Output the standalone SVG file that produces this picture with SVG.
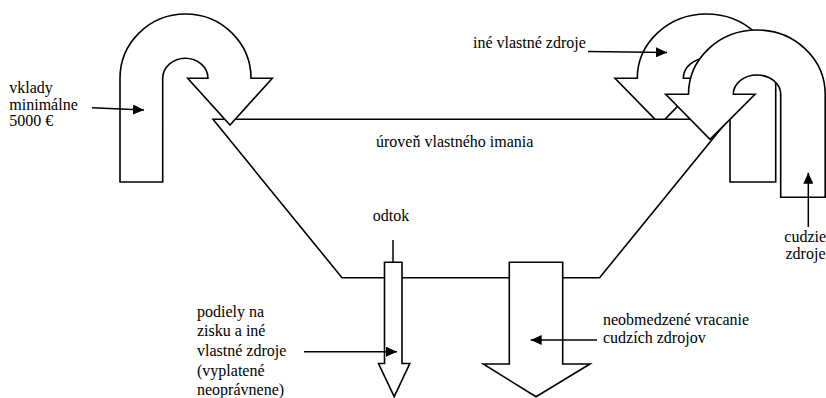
<svg xmlns="http://www.w3.org/2000/svg" width="826" height="398" viewBox="0 0 826 398">
<style>
.shape{fill:#fff;stroke:#000;stroke-width:1.6;stroke-linejoin:miter}
.conn{fill:none;stroke:#000;stroke-width:1.5}
text{font-family:"Liberation Serif","Times New Roman",serif;font-size:16px;fill:#000}
</style>
<defs>
<marker id="ah" markerUnits="userSpaceOnUse" markerWidth="12" markerHeight="10" refX="11" refY="5" orient="auto">
<path d="M0,0 L11,5 L0,10 Z" fill="#000"/>
</marker>
</defs>
<rect width="826" height="398" fill="#fff"/>
<g id="ine-vlastne-zdroje-arrow">
<path class="shape" d="M775.7,182 L775.7,78.3 A69.2,64.3 0 0 0 637.3,78.3 L615,78.3 L660,124.4 L705,78.3 L683.3,78.3 A23.35,20 0 0 1 730,78.3 L730,182 Z"/>
</g>
<g id="vlastne-imanie">
<path class="shape" d="M213,119.3 L728.6,119.3 L599.6,277.7 L342,277.7 Z"/>
<text x="376" y="146.7">úroveň vlastného imania</text>
</g>
<g id="vklady-arrow">
<path class="shape" d="M120,182 L120,78.3 A65.5,64.3 0 0 1 251,78.3 L272.3,78.3 L230,125 L187.7,78.3 L208,78.3 A22.65,20 0 0 0 162.7,78.3 L162.7,182 Z"/>
</g>
<g id="cudzie-zdroje-arrow">
<path class="shape" d="M825.2,197.3 L825.2,94.3 A68.35,64.3 0 0 0 688.5,94.3 L665.7,94.3 L710,139.3 L755,94.3 L733.3,94.3 A23.7,19.3 0 0 1 780.7,94.3 L780.7,197.3 Z"/>
</g>
<g id="odtok-arrow">
<path class="shape" d="M384.5,262.3 L402,262.3 L402,363.5 L409.8,363.5 L394.2,396.7 L378.5,363.5 L384.5,363.5 Z"/>
</g>
<g id="vracanie-arrow">
<path class="shape" d="M509.3,262.3 L562.7,262.3 L562.7,364 L590,364 L536,396.7 L483.3,364 L509.3,364 Z"/>
</g>
<g id="connectors">
<line class="conn" x1="92" y1="107.7" x2="144" y2="110" marker-end="url(#ah)"/>
<line class="conn" x1="588" y1="51.5" x2="667" y2="52.5" marker-end="url(#ah)"/>
<line class="conn" x1="808.3" y1="227" x2="808.3" y2="172.7" marker-end="url(#ah)"/>
<line class="conn" x1="393" y1="240" x2="393" y2="262.3"/>
<line class="conn" x1="304" y1="351.7" x2="397" y2="351.7" marker-end="url(#ah)"/>
<line class="conn" x1="597" y1="340" x2="530.7" y2="340" marker-end="url(#ah)"/>
</g>
<g id="labels">
<text x="9.3" y="93">vklady</text>
<text x="9.3" y="109.5">minimálne</text>
<text x="9.3" y="126">5000 €</text>
<text x="473" y="48">iné vlastné zdroje</text>
<text x="784.3" y="241.5">cudzie</text>
<text x="785.5" y="258.5">zdroje</text>
<text x="372.7" y="220.7">odtok</text>
<text x="197" y="316.5">podiely na</text>
<text x="197" y="336.3">zisku a iné</text>
<text x="197" y="356">vlastné zdroje</text>
<text x="197" y="375.6">(vyplatené</text>
<text x="197" y="394.5">neoprávnene)</text>
<text x="603" y="325">neobmedzené vracanie</text>
<text x="603" y="343.3">cudzích zdrojov</text>
</g>
</svg>
